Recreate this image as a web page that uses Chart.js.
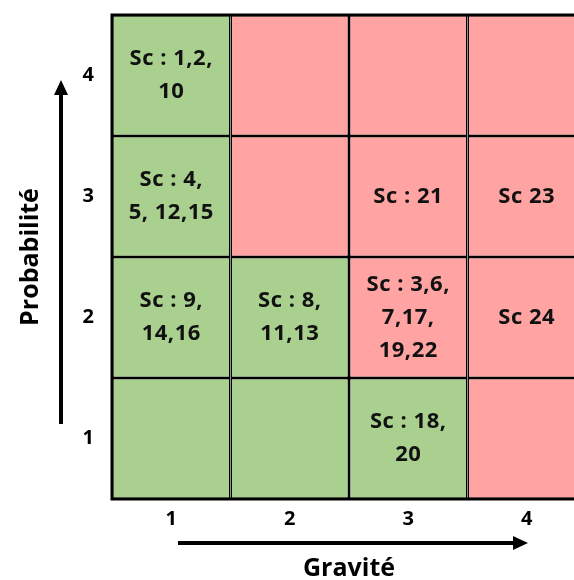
<!DOCTYPE html>
<html>
<head>
<meta charset="utf-8">
<script src="https://cdn.jsdelivr.net/npm/chart.js@4.4.1/dist/chart.umd.min.js"></script>
<style>
  html, body { margin: 0; padding: 0; background: #fff; overflow: hidden; }
  #wrap { width: 600px; height: 580px; }
</style>
</head>
<body>
<div id="wrap"><canvas id="matrix" width="600" height="580"></canvas></div>
<script>
const gravite = ['1', '2', '3', '4'];
const probabilite = [1, 2, 3, 4];
// one row per probabilite (1 -> 4), one column per gravite
const zones = [
  ['ok', 'ok', 'ok', 'risk'],
  ['ok', 'ok', 'risk', 'risk'],
  ['ok', 'risk', 'risk', 'risk'],
  ['ok', 'risk', 'risk', 'risk']
];
const scenarios = [
  [[], [], ['Sc : 18,', '20'], []],
  [['Sc : 9,', '14,16'], ['Sc : 8,', '11,13'], ['Sc : 3,6,', '7,17,', '19,22'], ['Sc 24']],
  [['Sc : 4,', '5, 12,15'], [], ['Sc : 21'], ['Sc 23']],
  [['Sc : 1,2,', '10'], [], [], []]
];
const zoneColors = { ok: '#a9d08e', risk: '#ffa3a3' };

Chart.defaults.font.family = "'Open Sans', sans-serif";
Chart.defaults.color = '#000';

const cellText = {
  id: 'cellText',
  afterDatasetsDraw(chart) {
    const ctx = chart.ctx;
    ctx.save();
    ctx.font = "bold 22px 'Open Sans', sans-serif";
    ctx.letterSpacing = '0.5px';
    ctx.fillStyle = '#111';
    ctx.textAlign = 'center';
    ctx.textBaseline = 'middle';
    const lh = 33;
    chart.data.datasets.forEach((ds, i) => {
      chart.getDatasetMeta(i).data.forEach((bar, j) => {
        const lines = scenarios[i][j];
        const cy = (bar.y + bar.base) / 2;
        lines.forEach((t, k) => {
          ctx.fillText(t, bar.x, cy + (k - (lines.length - 1) / 2) * lh);
        });
      });
    });
    ctx.restore();
  }
};

const frame = {
  id: 'frame',
  afterDatasetsDraw(chart) {
    const { ctx, chartArea: a } = chart;
    ctx.save();
    ctx.strokeStyle = '#000';
    ctx.lineWidth = 3;
    ctx.strokeRect(a.left, a.top, a.right - a.left, a.bottom - a.top);
    ctx.restore();
  }
};

function arrow(ctx, x1, y1, x2, y2) {
  const ang = Math.atan2(y2 - y1, x2 - x1);
  const head = 15, half = 7;
  ctx.beginPath();
  ctx.moveTo(x1, y1);
  ctx.lineTo(x2 - head * Math.cos(ang), y2 - head * Math.sin(ang));
  ctx.stroke();
  ctx.beginPath();
  ctx.moveTo(x2, y2);
  ctx.lineTo(x2 - head * Math.cos(ang) - half * Math.sin(ang), y2 - head * Math.sin(ang) + half * Math.cos(ang));
  ctx.lineTo(x2 - head * Math.cos(ang) + half * Math.sin(ang), y2 - head * Math.sin(ang) - half * Math.cos(ang));
  ctx.closePath();
  ctx.fill();
}

const axisArrows = {
  id: 'axisArrows',
  afterDraw(chart) {
    const { ctx, chartArea: a } = chart;
    ctx.save();
    ctx.strokeStyle = '#000';
    ctx.fillStyle = '#000';
    ctx.lineWidth = 4;
    arrow(ctx, a.left - 51, a.bottom - 75, a.left - 51, a.top + 65);
    arrow(ctx, a.left + 66, a.bottom + 44, a.left + 416, a.bottom + 44);
    ctx.restore();
  }
};

new Chart(document.getElementById('matrix'), {
  type: 'bar',
  data: {
    labels: gravite,
    datasets: probabilite.map((p, i) => ({
      label: 'Probabilité ' + p,
      data: gravite.map(() => [p - 0.5, p + 0.5]),
      backgroundColor: zones[i].map(z => zoneColors[z]),
      borderColor: '#000',
      borderWidth: 1.5,
      borderSkipped: false,
      inflateAmount: 0,
      grouped: false,
      barPercentage: 1,
      categoryPercentage: 1
    }))
  },
  options: {
    responsive: false,
    animation: false,
    events: [],
    layout: { padding: { top: 12, right: 14, left: 0, bottom: 0 } },
    plugins: {
      legend: { display: false },
      tooltip: { enabled: false }
    },
    scales: {
      x: {
        grid: { display: false },
        border: { display: false },
        ticks: { font: { size: 20, weight: 'bold' }, padding: 0 },
        title: {
          display: true,
          text: 'Gravité',
          font: { size: 25, weight: 'bold', lineHeight: 0.9 },
          padding: { top: 0, bottom: 0 }
        },
        afterFit(scale) { scale.height = 81; }
      },
      y: {
        type: 'linear',
        min: 0.5,
        max: 4.5,
        grid: { display: false },
        border: { display: false },
        afterBuildTicks(scale) { scale.ticks = probabilite.map(v => ({ value: v })); },
        ticks: { font: { size: 20, weight: 'bold', lineHeight: 0.5 }, padding: 10 },
        title: {
          display: true,
          text: 'Probabilité',
          font: { size: 25, weight: 'bold' },
          padding: { top: 16, bottom: 0 }
        },
        afterFit(scale) { scale.width = 112; }
      }
    }
  },
  plugins: [cellText, frame, axisArrows]
});
</script>
</body>
</html>
